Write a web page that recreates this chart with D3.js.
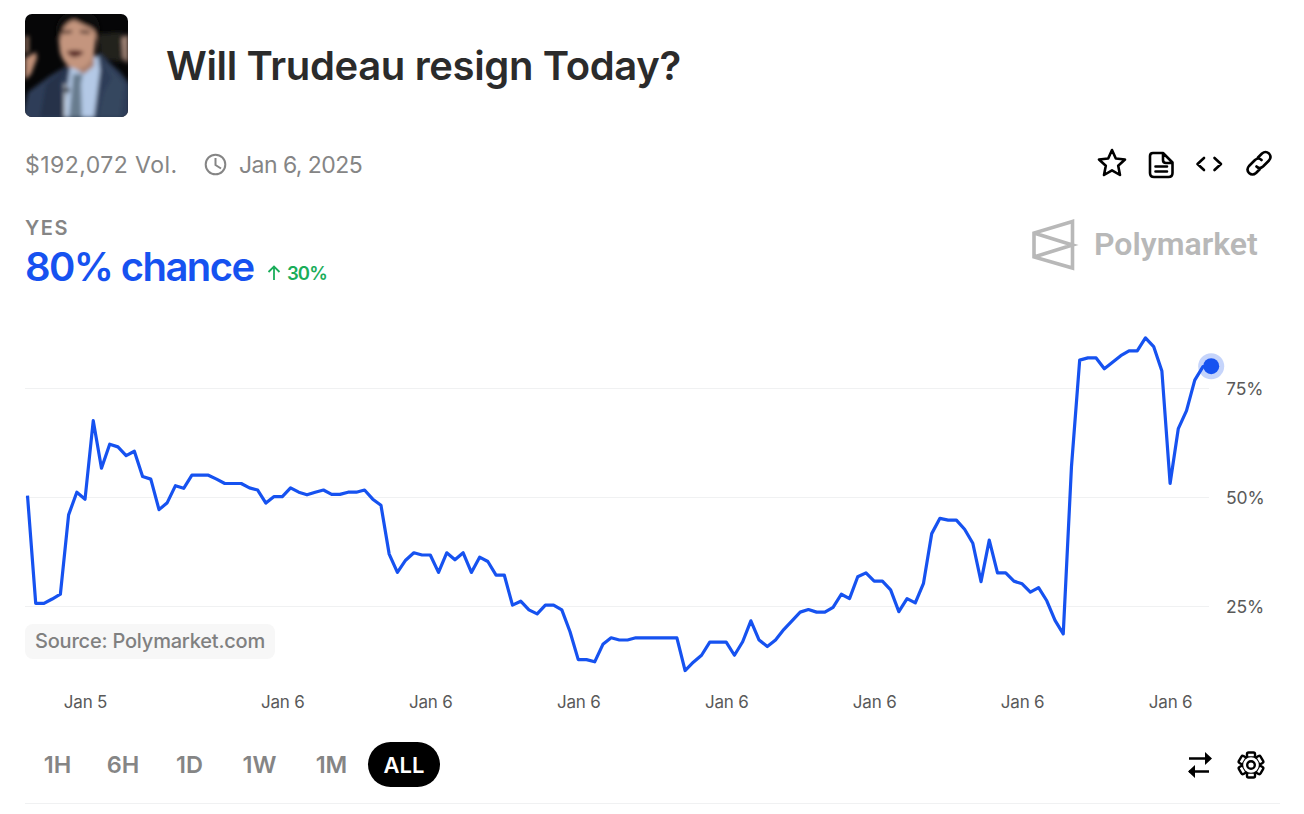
<!DOCTYPE html>
<html>
<head>
<meta charset="utf-8">
<script src="https://cdn.jsdelivr.net/npm/d3@7"></script>
<style>
  html, body { margin: 0; padding: 0; background: #fff; }
  svg { display: block; }
  text { font-family: Inter, "Noto Sans", sans-serif; }
</style>
</head>
<body>
<svg id="chart" width="1304" height="814"></svg>
<script>
// yes price in percent, one reading per step of the series
var yesValues = [
  50.3, 25.6, 25.6, 26.6, 27.7, 45.9, 51.1, 49.5, 67.5, 56.6, 62.1, 61.5, 59.5, 60.5, 54.7, 54.1,
  47.1, 48.7, 52.6, 52.0, 55.0, 55.0, 55.0, 54.1, 53.1, 53.1, 53.1, 52.1, 51.6, 48.6, 50.1, 50.1,
  52.1, 51.1, 50.5, 51.1, 51.6, 50.6, 50.6, 51.1, 51.1, 51.6, 49.5, 48.1, 36.9, 32.7, 35.5, 37.2,
  36.7, 36.7, 32.7, 37.2, 35.6, 37.2, 32.7, 36.2, 35.2, 32.1, 32.1, 25.2, 26.1, 24.1, 23.2, 25.2,
  25.2, 24.1, 19.1, 12.7, 12.7, 12.2, 16.2, 17.7, 17.2, 17.2, 17.7, 17.7, 17.7, 17.7, 17.7, 17.7,
  10.2, 12.1, 13.7, 16.7, 16.7, 16.7, 13.7, 16.8, 21.6, 17.2, 15.7, 17.2, 19.6, 21.6, 23.6, 24.2,
  23.6, 23.6, 24.7, 27.7, 26.7, 31.7, 32.6, 30.7, 30.7, 28.7, 23.7, 26.7, 25.7, 30.2, 41.6, 45.1,
  44.7, 44.7, 42.6, 39.4, 30.6, 40.1, 32.6, 32.6, 30.7, 30.1, 28.2, 29.2, 26.2, 21.7, 18.6, 56.9,
  81.4, 81.9, 81.9, 79.4, 80.9, 82.4, 83.5, 83.5, 86.5, 84.5, 78.9, 53.1, 65.7, 69.8, 76.8, 79.9, 80.0
];

// which steps carry a date label and what the label says
var xTickSteps = [7, 31, 49, 67, 85, 103, 121, 139];
var xTickLabels = ["Jan 5", "Jan 6", "Jan 6", "Jan 6", "Jan 6", "Jan 6", "Jan 6", "Jan 6"];
var yTicks = [25, 50, 75];

var rangeButtons = ["1H", "6H", "1D", "1W", "1M", "ALL"];
var rangeCenters = [57.5, 123, 189.5, 259.5, 331.5, 404];

var blue = "#1652f0";
var svg = d3.select("#chart");

var x = d3.scaleLinear().domain([0, yesValues.length - 1]).range([27.5, 1211.2]);
var y = d3.scaleLinear().domain([0, 100]).range([715, 279]);

// gridlines and y labels
var yAxis = d3.axisRight(y)
  .tickValues(yTicks)
  .tickFormat(function (d) { return d + "%"; })
  .tickSize(1184)
  .tickPadding(17);
var yG = svg.append("g").attr("transform", "translate(25,0)").call(yAxis);
yG.select(".domain").remove();
yG.selectAll("line").attr("stroke", "#f0f1f2").attr("stroke-width", 1);
yG.selectAll("text").attr("fill", "#595959").attr("dy", "0.36em").style("font-size", "17.5px").style("letter-spacing", "-0.1px").style("font-family", "Inter");

// date labels
var xAxis = d3.axisBottom(x)
  .tickValues(xTickSteps)
  .tickFormat(function (d, i) { return xTickLabels[i]; })
  .tickSize(0)
  .tickPadding(0);
var xG = svg.append("g").attr("transform", "translate(0,696)").call(xAxis);
xG.select(".domain").remove();
xG.selectAll("text").attr("fill", "#595959").style("font-size", "17px").style("letter-spacing", "-0.2px").style("font-family", "Inter");

// source badge goes under the line
svg.append("rect").attr("x", 25).attr("y", 624).attr("width", 250).attr("height", 35).attr("rx", 8).attr("fill", "#f7f7f7");
svg.append("text").attr("x", 35).attr("y", 648).attr("font-size", 20).attr("font-weight", 500).attr("letter-spacing", -0.2).attr("fill", "#808080").text("Source: Polymarket.com");

// the line
var line = d3.line()
  .x(function (d, i) { return x(i); })
  .y(function (d) { return y(d); });
svg.append("path").datum(yesValues)
  .attr("d", line)
  .attr("fill", "none")
  .attr("stroke", blue)
  .attr("stroke-width", 3.2)
  .attr("stroke-linejoin", "round");

var last = yesValues.length - 1;
svg.append("circle").attr("cx", x(last)).attr("cy", y(yesValues[last])).attr("r", 13).attr("fill", blue).attr("opacity", 0.25);
svg.append("circle").attr("cx", x(last)).attr("cy", y(yesValues[last])).attr("r", 8).attr("fill", blue);

// header
var defs = svg.append("defs");
defs.append("clipPath").attr("id", "thumbClip").append("rect")
  .attr("x", 25).attr("y", 14).attr("width", 103).attr("height", 103).attr("rx", 7);
defs.append("filter").attr("id", "soft").append("feGaussianBlur").attr("stdDeviation", 2);

// rough painted stand-in for the thumbnail photo
var thumb = svg.append("g").attr("clip-path", "url(#thumbClip)");
thumb.append("rect").attr("x", 25).attr("y", 14).attr("width", 103).attr("height", 103).attr("fill", "#060607");
var paint = thumb.append("g").attr("filter", "url(#soft)");
function blob(d, fill) { paint.append("path").attr("d", d).attr("fill", fill); }
blob("M98 34 L122 32 L122 62 L100 58 Z", "#24241f");
blob("M25 36 L29 36 L29 52 L25 54 Z", "#8a6a5a");
blob("M25 58 L36 52 L37 58 L31 74 L25 80 Z", "#c09078");
blob("M122 38 L128 34 L128 64 L123 58 Z", "#a98a7c");
// suit
blob("M22 117 L28 92 L50 76 L70 64 L100 54 L120 72 L130 84 L130 120 L22 120 Z", "#2f3d58");
blob("M70 64 L60 84 L64 117 L40 117 L46 84 Z", "#26324a");
blob("M100 56 L112 78 L104 92 L98 117 L120 117 L124 84 Z", "#36465f");
// shirt and tie
blob("M71 62 L98 56 L100 70 L94 117 L64 117 L68 84 Z", "#b4c9e6");
blob("M73 74 L83 74 L81 84 L82 117 L69 117 L72 86 Z", "#677c8e");
// neck, face, hair
blob("M72 56 L94 52 L94 66 L84 74 L74 68 Z", "#a97f6c");
blob("M58 34 Q58 20 76 20 Q96 20 96 38 L94 54 Q88 69 76 69 Q64 67 60 52 Z", "#c4957e");
blob("M56 36 Q54 12 76 12 Q102 10 100 34 L97 40 Q96 28 86 26 L74 20 Q62 24 60 40 Z", "#0f0c0b");
blob("M62 31 L72 30 L72 33 L62 34 Z", "#4a2e28");
blob("M80 30 L90 31 L90 34 L80 33 Z", "#4a2e28");
blob("M66 52 Q74 48 84 52 Q80 58 72 57 Z", "#5a2c26");
blob("M64 84 L64 117 L66 117 L66 84 Z", "#c0c7cf");
paint.append("circle").attr("cx", 67).attr("cy", 90).attr("r", 2.6).attr("fill", "#0c0c0c");

svg.append("text").attr("x", 166).attr("y", 80).attr("font-size", 40).attr("font-weight", 600).attr("letter-spacing", -0.36).attr("fill", "#2b2b2b").text("Will Trudeau resign Today?");

var metaColor = "#858585";
svg.append("text").attr("x", 25).attr("y", 173).attr("font-size", 23).attr("letter-spacing", 0.45).attr("fill", metaColor).text("$192,072 Vol.");
svg.append("circle").attr("cx", 215.5).attr("cy", 164.5).attr("r", 9.8).attr("fill", "none").attr("stroke", metaColor).attr("stroke-width", 2);
svg.append("path").attr("d", "M215.5 158 V165 L221 168.5").attr("fill", "none").attr("stroke", metaColor).attr("stroke-width", 2);
svg.append("text").attr("x", 239).attr("y", 173).attr("font-size", 23).attr("letter-spacing", -0.55).attr("fill", metaColor).text("Jan 6, 2025");

svg.append("text").attr("x", 25).attr("y", 235).attr("font-size", 20).attr("font-weight", 600).attr("letter-spacing", 1.5).attr("fill", metaColor).text("YES");
svg.append("text").attr("x", 25).attr("y", 281).attr("font-size", 40).attr("font-weight", 600).attr("letter-spacing", -1.6).attr("fill", blue).text("80% chance");
svg.append("path").attr("d", "M274 280 V266.5 M268.5 272 L274 266.5 L279.5 272").attr("fill", "none").attr("stroke", "#1aad5a").attr("stroke-width", 1.8);
svg.append("text").attr("x", 287).attr("y", 280).attr("font-size", 18.5).attr("font-weight", 600).attr("letter-spacing", -0.9).attr("fill", "#1aad5a").text("30%");

// top right icons
var iconStroke = { fill: "none", stroke: "#000", "stroke-width": 2.6, "stroke-linejoin": "round", "stroke-linecap": "round" };
function icon(d) {
  var p = svg.append("path").attr("d", d);
  Object.keys(iconStroke).forEach(function (k) { p.attr(k, iconStroke[k]); });
  return p;
}
icon("M1112 150 L1115.8 158.5 L1125 159.5 L1118.2 165.8 L1120 175 L1112 170.3 L1104 175 L1105.8 165.8 L1099 159.5 L1108.2 158.5 Z");
icon("M1153 153 H1163 L1172.5 162.5 V173 Q1172.5 177 1168.5 177 H1154 Q1150 177 1150 173 V156 Q1150 153 1153 153 Z M1163 153 V160 Q1163 163 1166 163 H1172.5 M1155.5 166.5 H1167 M1155.5 171.5 H1167");
icon("M1204 158 L1197.5 164 L1204 170 M1214.5 158 L1221 164 L1214.5 170");
icon("M1258 157.5 L1262 153.5 Q1265.5 150.5 1269 153.5 Q1272 157 1269 160.5 L1263 166.5 Q1259.5 169.5 1256.5 166.5 M1260 169 L1256 173 Q1252.5 176 1249 173 Q1246 169.5 1249 166 L1255 160 Q1258.5 157 1261.5 160");

// polymarket mark
svg.append("path")
  .attr("d", "M1072.5 221.5 L1034 233 V257 L1072.5 268 Z M1034 233 L1072.5 245 L1034 257")
  .attr("fill", "none").attr("stroke", "#b8b8b8").attr("stroke-width", 3.6);
svg.append("text").attr("x", 1094).attr("y", 255).attr("font-size", 32).attr("font-weight", 600).attr("fill", "#b8b8b8").style("font-family", "Roboto").text("Polymarket");

// range buttons
svg.append("rect").attr("x", 368).attr("y", 742).attr("width", 72).attr("height", 45).attr("rx", 22.5).attr("fill", "#000");
svg.selectAll(".range").data(rangeButtons).enter().append("text")
  .attr("class", "range")
  .attr("x", function (d, i) { return rangeCenters[i]; })
  .attr("y", 773)
  .attr("text-anchor", "middle")
  .attr("font-size", function (d) { return d === "ALL" ? 22 : 23.5; })
  .attr("font-weight", 600)
  .attr("fill", function (d) { return d === "ALL" ? "#fff" : "#858585"; })
  .text(function (d) { return d; });

// swap and settings icons
svg.append("path").attr("d", "M1189 758.5 H1209 M1189 771.5 H1209").attr("stroke", "#000").attr("stroke-width", 2.6);
svg.append("path").attr("d", "M1205 752 L1212 758.5 L1205 765 Z M1195 765 L1188 771.5 L1195 778 Z").attr("fill", "#000");
// gear drawn as a ring with six teeth
var gearTeeth = d3.range(6).map(function (i) { return i * 60; });
svg.append("circle").attr("cx", 1251).attr("cy", 765).attr("r", 8.5).attr("fill", "#fff").attr("stroke", "#000").attr("stroke-width", 2.6);
svg.selectAll(".tooth").data(gearTeeth).enter().append("rect")
  .attr("class", "tooth")
  .attr("x", 1247).attr("y", 752.5).attr("width", 8).attr("height", 5).attr("rx", 1.5)
  .attr("fill", "#fff").attr("stroke", "#000").attr("stroke-width", 2.4)
  .attr("transform", function (d) { return "rotate(" + d + " 1251 765)"; });
svg.append("circle").attr("cx", 1251).attr("cy", 765).attr("r", 7.8).attr("fill", "#fff");
svg.append("circle").attr("cx", 1251).attr("cy", 765).attr("r", 3.8).attr("fill", "none").attr("stroke", "#000").attr("stroke-width", 2.4);

svg.append("line").attr("x1", 25).attr("x2", 1280).attr("y1", 803.5).attr("y2", 803.5).attr("stroke", "#f0f1f2");
</script>
</body>
</html>
